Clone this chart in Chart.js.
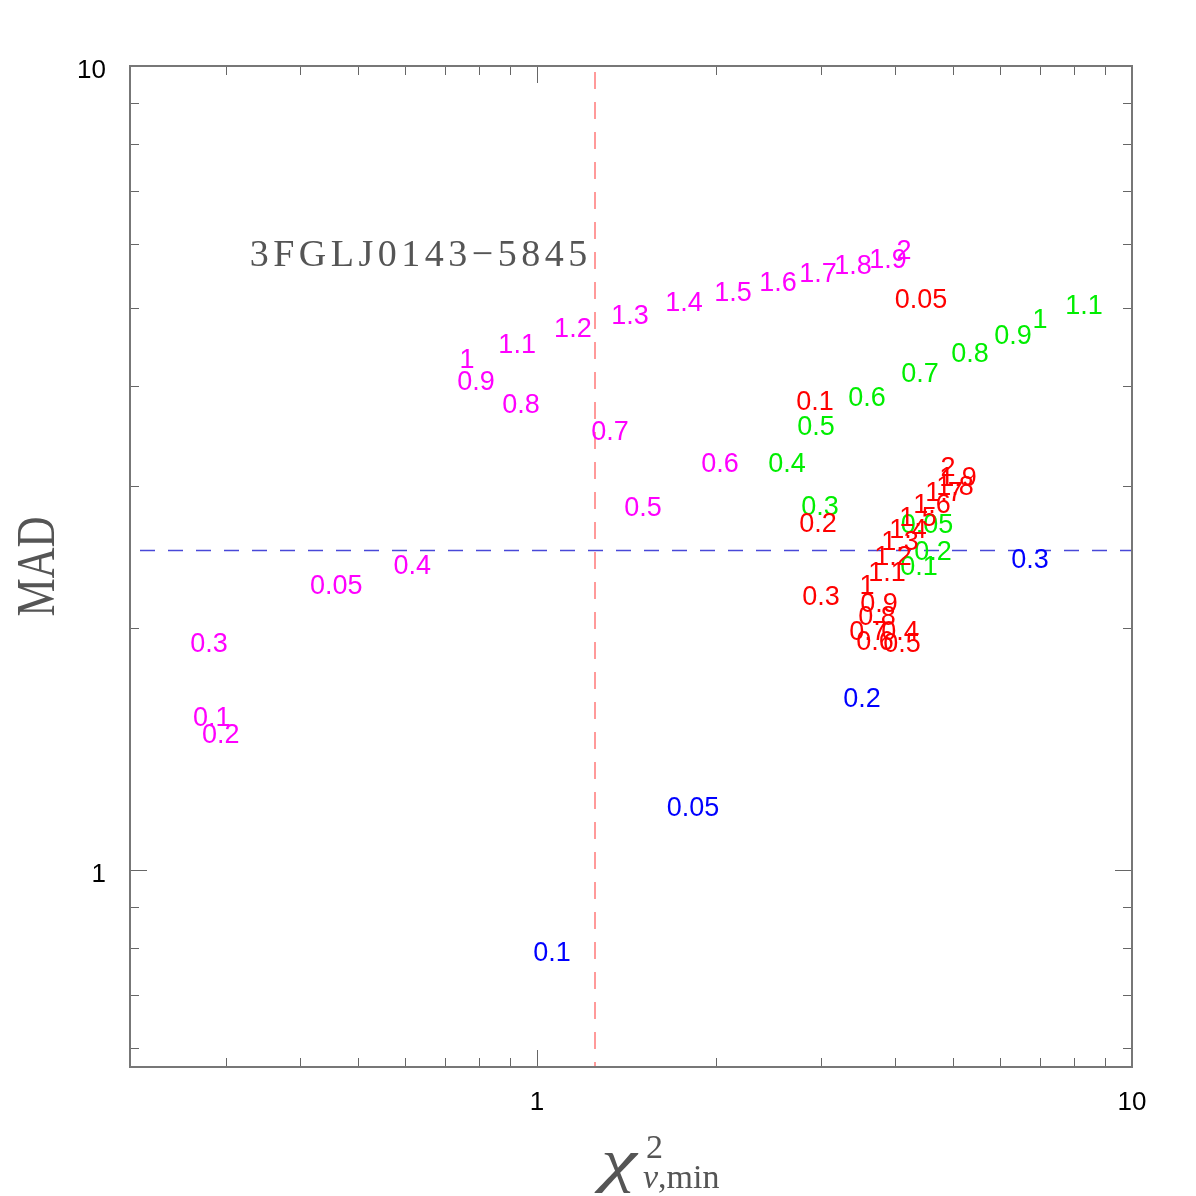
<!DOCTYPE html>
<html>
<head>
<meta charset="utf-8">
<title>MAD vs chi2</title>
<script src="https://cdn.jsdelivr.net/npm/chart.js@4.4.1/dist/chart.umd.min.js"></script>
<style>
  html, body { margin: 0; padding: 0; background: #fff; }
  #wrap { width: 1196px; height: 1196px; }
</style>
</head>
<body>
<div id="wrap"><canvas id="madChart" width="1196" height="1196"></canvas></div>
<script>
// valeurs (centre de chaque étiquette)
const magentaMarks = ['0.05','0.1','0.2','0.3','0.4','0.5','0.6','0.7','0.8','0.9','1','1.1','1.2','1.3','1.4','1.5','1.6','1.7','1.8','1.9','2'];
const magentaX = [0.460, 0.284, 0.294, 0.281, 0.617, 1.507, 2.030, 1.327, 0.940, 0.790, 0.763, 0.926, 1.149, 1.433, 1.766, 2.135, 2.541, 2.967, 3.397, 3.890, 4.139];
const magentaY = [2.268, 1.550, 1.480, 1.916, 2.402, 2.836, 3.208, 3.516, 3.809, 4.057, 4.321, 4.523, 4.722, 4.901, 5.087, 5.235, 5.387, 5.528, 5.657, 5.754, 5.920];

const redMarks = ['0.05','0.1','0.2','0.3','0.4','0.5','0.6','0.7','0.8','0.9','1','1.1','1.2','1.3','1.4','1.5','1.6','1.7','1.8','1.9','2'];
const redX = [4.419, 2.933, 2.967, 3.001, 4.074, 4.106, 3.699, 3.600, 3.728, 3.757, 3.586, 3.875, 3.966, 4.074, 4.202, 4.368, 4.612, 4.831, 5.041, 5.100, 4.907];
const redY = [5.145, 3.842, 2.709, 2.198, 1.983, 1.916, 1.927, 1.983, 2.070, 2.154, 2.268, 2.354, 2.458, 2.566, 2.656, 2.756, 2.860, 2.953, 3.004, 3.083, 3.172];

const greenMarks = ['0.05','0.1','0.2','0.3','0.4','0.5','0.6','0.7','0.8','0.9','1','1.1'];
const greenX = [4.523, 4.386, 4.630, 2.990, 2.632, 2.944, 3.586, 4.403, 5.343, 6.310, 7.004, 8.306];
const greenY = [2.694, 2.395, 2.500, 2.844, 3.217, 3.567, 3.876, 4.151, 4.396, 4.629, 4.846, 5.044];

const blueMarks = ['0.05','0.1','0.2','0.3'];
const blueX = [1.829, 1.060, 3.517, 6.740];
const blueY = [1.198, 0.791, 1.637, 2.437];

const xTicks = [0.3, 0.4, 0.5, 0.6, 0.7, 0.8, 0.9, 1, 2, 3, 4, 5, 6, 7, 8, 9, 10];
const yTicks = [0.6, 0.7, 0.8, 0.9, 1, 2, 3, 4, 5, 6, 7, 8, 9, 10];
const labelledTicks = [1, 10];

const madLimit = 2.5;
const chiLimit = 1.25;
const sourceName = '3FGLJ0143\u22125845';
const sourcePos = { x: 0.329, y: 5.80 };

function points(xs, ys) {
  return xs.map((v, i) => ({ x: v, y: ys[i] }));
}

// étiquettes texte à la place des points
const textMarks = {
  id: 'textMarks',
  afterDatasetsDraw(chart) {
    const ctx = chart.ctx;
    ctx.save();
    ctx.font = '27px "Liberation Sans", Arial, sans-serif';
    ctx.textAlign = 'center';
    ctx.textBaseline = 'middle';
    chart.data.datasets.forEach((ds, i) => {
      const meta = chart.getDatasetMeta(i);
      ctx.fillStyle = ds.textColor;
      meta.data.forEach((el, j) => {
        ctx.fillText(ds.marks[j], el.x, el.y + 2);
      });
    });
    ctx.restore();
  }
};

// cadre, graduations intérieures, lignes de seuil, titres
const frame = {
  id: 'frame',
  beforeDatasetsDraw(chart) {
    const { ctx, chartArea: a, scales: { x, y } } = chart;
    ctx.save();
    // seuil MAD
    const py = Math.round(y.getPixelForValue(madLimit)) + 0.5;
    ctx.strokeStyle = '#4848d8';
    ctx.lineWidth = 1.5;
    ctx.setLineDash([15, 13]);
    ctx.beginPath();
    ctx.moveTo(a.left + 10, py);
    ctx.lineTo(a.right, py);
    ctx.stroke();
    // seuil chi2
    const px = Math.round(x.getPixelForValue(chiLimit));
    ctx.strokeStyle = '#ff9a9a';
    ctx.lineWidth = 2;
    ctx.setLineDash([17, 13]);
    ctx.beginPath();
    ctx.moveTo(px, a.top + 6);
    ctx.lineTo(px, a.bottom);
    ctx.stroke();
    ctx.restore();
  },
  afterDraw(chart) {
    const { ctx, chartArea: a, scales: { x, y } } = chart;
    ctx.save();
    ctx.strokeStyle = '#666';
    ctx.lineWidth = 1;
    ctx.beginPath();
    xTicks.forEach(v => {
      const p = Math.round(x.getPixelForValue(v)) + 0.5;
      const len = labelledTicks.includes(v) ? 17 : 9;
      ctx.moveTo(p, a.bottom); ctx.lineTo(p, a.bottom - len);
      ctx.moveTo(p, a.top); ctx.lineTo(p, a.top + len);
    });
    yTicks.forEach(v => {
      const p = Math.round(y.getPixelForValue(v)) + 0.5;
      const len = labelledTicks.includes(v) ? 17 : 9;
      ctx.moveTo(a.left, p); ctx.lineTo(a.left + len, p);
      ctx.moveTo(a.right, p); ctx.lineTo(a.right - len, p);
    });
    ctx.stroke();
    ctx.strokeStyle = '#777';
    ctx.lineWidth = 2;
    ctx.strokeRect(a.left, a.top, a.right - a.left, a.bottom - a.top);

    // nom de la source
    ctx.fillStyle = '#555';
    ctx.font = '38px "Liberation Serif", "Times New Roman", serif';
    ctx.letterSpacing = '4.5px';
    ctx.textAlign = 'left';
    ctx.textBaseline = 'middle';
    ctx.fillText(sourceName, x.getPixelForValue(sourcePos.x), y.getPixelForValue(sourcePos.y));
    ctx.letterSpacing = '0px';

    // titre axe y
    ctx.save();
    ctx.translate(40, (a.top + a.bottom) / 2);
    ctx.rotate(-Math.PI / 2);
    ctx.scale(0.78, 1);
    ctx.textAlign = 'center';
    ctx.textBaseline = 'middle';
    ctx.font = '55px "Liberation Serif", "Times New Roman", serif';
    ctx.fillText('MAD', 0, 0);
    ctx.restore();

    // titre axe x : chi2 nu,min
    const cx = (a.left + a.right) / 2;
    ctx.textAlign = 'left';
    ctx.textBaseline = 'alphabetic';
    ctx.save();
    ctx.translate(cx - 30, 1180);
    ctx.scale(1.45, 1.05);
    ctx.font = 'italic 56px "Liberation Serif", "Times New Roman", serif';
    ctx.fillText('\u03c7', 0, 0);
    ctx.restore();
    ctx.font = '34px "Liberation Serif", "Times New Roman", serif';
    ctx.fillText('2', cx + 15, 1158);
    ctx.font = 'italic 34px "Liberation Serif", "Times New Roman", serif';
    ctx.fillText('\u03bd', cx + 12, 1188);
    const nuW = ctx.measureText('\u03bd').width;
    ctx.font = '34px "Liberation Serif", "Times New Roman", serif';
    ctx.fillText(',min', cx + 12 + nuW, 1188);
    ctx.restore();
  }
};

const ctx = document.getElementById('madChart').getContext('2d');
new Chart(ctx, {
  type: 'scatter',
  data: {
    datasets: [
      { label: 'magenta', data: points(magentaX, magentaY), marks: magentaMarks, textColor: '#ff00ff' },
      { label: 'green', data: points(greenX, greenY), marks: greenMarks, textColor: '#00ee00' },
      { label: 'red', data: points(redX, redY), marks: redMarks, textColor: '#ff0000' },
      { label: 'blue', data: points(blueX, blueY), marks: blueMarks, textColor: '#0000ff' }
    ]
  },
  options: {
    responsive: false,
    animation: false,
    devicePixelRatio: 1,
    layout: { padding: { top: 66, right: 64, left: 0, bottom: 0 } },
    elements: { point: { radius: 0, hoverRadius: 0 } },
    plugins: {
      legend: { display: false },
      tooltip: { enabled: false }
    },
    events: [],
    scales: {
      x: {
        type: 'logarithmic',
        min: 0.207,
        max: 10,
        grid: { display: false },
        border: { display: false },
        afterBuildTicks: s => { s.ticks = xTicks.map(v => ({ value: v })); },
        afterFit: s => { s.height = 129; },
        ticks: {
          autoSkip: false,
          maxRotation: 0,
          padding: 12,
          color: '#000',
          font: { family: '"Liberation Sans", Arial, sans-serif', size: 26 },
          callback: v => labelledTicks.includes(v) ? String(v) : ''
        }
      },
      y: {
        type: 'logarithmic',
        min: 0.569,
        max: 10,
        grid: { display: false },
        border: { display: false },
        afterBuildTicks: s => { s.ticks = yTicks.map(v => ({ value: v })); },
        afterFit: s => { s.width = 130; },
        ticks: {
          autoSkip: false,
          padding: 16,
          labelOffset: 5,
          color: '#000',
          font: { family: '"Liberation Sans", Arial, sans-serif', size: 26 },
          callback: v => labelledTicks.includes(v) ? String(v) : ''
        }
      }
    }
  },
  plugins: [frame, textMarks]
});
</script>
</body>
</html>
